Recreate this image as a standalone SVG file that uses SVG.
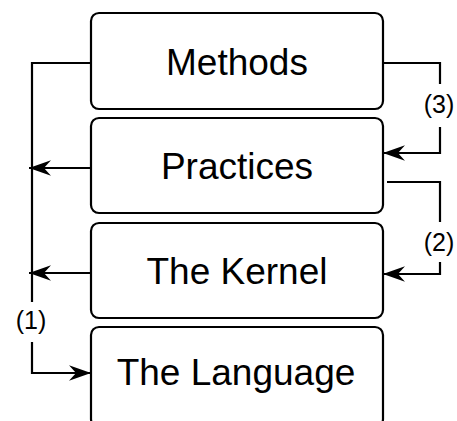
<svg xmlns="http://www.w3.org/2000/svg" width="457" height="421" viewBox="0 0 457 421">
<defs>
<marker id="ah" viewBox="0 0 10 7" markerWidth="10" markerHeight="7" refX="10" refY="3.5" orient="auto" markerUnits="strokeWidth">
<path d="M0,0 L10,3.5 L0,7 L3.2,3.5 Z" fill="#000"/>
</marker>
</defs>
<style>
.box{fill:#fff;stroke:#000;stroke-width:2.2}
.lbl{font-family:"Liberation Sans",Arial,sans-serif;font-size:37px;fill:#000;text-anchor:middle}
.num{font-family:"Liberation Sans",Arial,sans-serif;font-size:25px;fill:#000;text-anchor:middle}
.c{fill:none;stroke:#000;stroke-width:2.2}
</style>
<rect width="457" height="421" fill="#fff"/>
<g id="methods"><rect class="box" x="91" y="13" width="292" height="96" rx="8"/><text class="lbl" x="237" y="75">Methods</text></g>
<g id="practices"><rect class="box" x="91" y="118" width="292" height="95" rx="8"/><text class="lbl" x="237" y="179">Practices</text></g>
<g id="kernel"><rect class="box" x="91" y="223" width="292" height="95" rx="8"/><text class="lbl" x="237" y="284">The Kernel</text></g>
<g id="language"><rect class="box" x="91" y="327" width="292" height="100" rx="8"/><text class="lbl" x="236" y="385">The Language</text></g>
<g id="connectors">
<path class="c" d="M91,63 H32 V302"/>
<path class="c" d="M32,342 V373 H91" marker-end="url(#ah)"/>
<path class="c" d="M91,168 H29" marker-end="url(#ah)"/>
<path class="c" d="M91,273 H29" marker-end="url(#ah)"/>
<path class="c" d="M383,63 H440 V84"/>
<path class="c" d="M440,127 V153 H383" marker-end="url(#ah)"/>
<path class="c" d="M387,182 H440 V222"/>
<path class="c" d="M440,262 V274 H383" marker-end="url(#ah)"/>
<text class="num" x="31" y="329">(1)</text>
<text class="num" x="439" y="251">(2)</text>
<text class="num" x="439" y="113">(3)</text>
</g>
</svg>
